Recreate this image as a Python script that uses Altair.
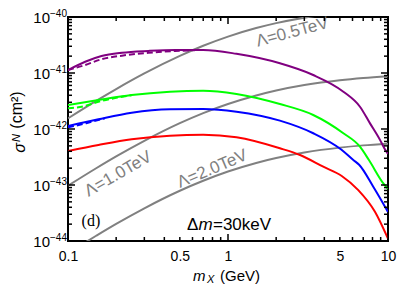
import altair as alt
import pandas as pd

# ---------------- data ----------------
purple_x = [0.1, 0.128, 0.162, 0.217, 0.318, 0.467, 0.70, 1.13, 2.11, 3.41, 5.26, 6.68, 7.72, 8.91, 9.5, 10]
purple_y = [1.13e-41, 1.59e-41, 2.01e-41, 2.30e-41, 2.48e-41, 2.58e-41, 2.58e-41, 2.2e-41, 1.49e-41,
            9.2e-42, 4.64e-42, 2.50e-42, 1.26e-42, 6.4e-43, 4.5e-43, 3.6e-43]
purple_dash_x = [0.1, 0.128, 0.162, 0.217, 0.318, 0.467, 0.62]
purple_dash_y = [1.13e-41, 1.39e-41, 1.76e-41, 2.04e-41, 2.30e-41, 2.47e-41, 2.56e-41]

green_x = [0.1, 0.155, 0.25, 0.434, 0.70, 1.13, 2.11, 3.41, 5.26, 6.68, 7.6, 9.35, 10]
green_y = [2.68e-42, 3.30e-42, 4.05e-42, 4.64e-42, 4.83e-42, 4.22e-42, 2.79e-42, 1.78e-42,
           8.4e-43, 4.83e-43, 2.79e-43, 1.07e-43, 8.5e-44]
green_dash_x = [0.1, 0.128, 0.155, 0.2, 0.25]
green_dash_y = [2.34e-42, 2.58e-42, 3.07e-42, 3.6e-42, 4.0e-42]

blue_x = [0.1, 0.155, 0.25, 0.434, 0.70, 1.13, 2.11, 3.41, 5.1, 6.07, 6.6, 8.09, 10]
blue_y = [1.13e-42, 1.49e-42, 1.95e-42, 2.25e-42, 2.28e-42, 2.04e-42, 1.41e-42, 8.4e-43,
          4.3e-43, 2.79e-43, 2.3e-43, 9.3e-44, 3.3e-44]
blue_dash_x = [0.1, 0.13, 0.17]
blue_dash_y = [1.07e-42, 1.27e-42, 1.55e-42]

red_x = [0.1, 0.155, 0.25, 0.434, 0.70, 1.13, 2.11, 2.82, 3.94, 5.14, 6.52, 8.29, 10]
red_y = [4.05e-43, 5.18e-43, 6.55e-43, 7.6e-43, 7.9e-43, 7.1e-43, 4.52e-43, 3.43e-43,
         2.12e-43, 1.45e-43, 8.1e-44, 3.33e-44, 1.1e-44]

gray_x = [0.1, 0.15, 0.2, 0.3, 0.5, 0.7, 1, 1.5, 2, 3, 5, 7, 10]
lam05_y = [1.55e-42, 3.18e-42, 5.17e-42, 9.83e-42, 2.02e-41, 3.06e-41, 4.46e-41, 6.34e-41,
           7.77e-41, 9.73e-41, 1.19e-40, 1.30e-40, 1.40e-40]
lam10_y = [9.7e-44, 1.99e-43, 3.24e-43, 6.15e-43, 1.27e-42, 1.92e-42, 2.79e-42, 3.97e-42,
           4.87e-42, 6.10e-42, 7.45e-42, 8.17e-42, 8.79e-42]
lam20_y = [6.1e-45, 1.24e-44, 2.02e-44, 3.84e-44, 7.90e-44, 1.19e-43, 1.74e-43, 2.48e-43,
           3.03e-43, 3.80e-43, 4.65e-43, 5.10e-43, 5.48e-43]

lam_labels = ["Λ=0.5TeV", "Λ=1.0TeV", "Λ=2.0TeV"]
lam_label_x = [2.52, 0.206, 0.798]
lam_label_y = [5.33e-41, 1.57e-43, 1.93e-43]
lam_label_angle = [345, 330, 337]

x_tick_labels = [0.1, 0.5, 1, 5, 10]
x_major = [0.1, 1, 10]
x_minor = [0.2, 0.3, 0.4, 0.5, 0.6, 0.7, 0.8, 0.9, 2, 3, 4, 5, 6, 7, 8, 9]
y_major = [1e-44, 1e-43, 1e-42, 1e-41, 1e-40]
y_exp_labels = ["−44", "−43", "−42", "−41", "−40"]
y_minor = [k * 10.0 ** n for n in (-44, -43, -42, -41) for k in range(2, 10)]

W, H = 320, 224
FONT = "Liberation Sans"

# ---------------- tables ----------------
def table(name, xs, ys):
    return pd.DataFrame({"x": xs, "y": ys, "series": name})

solid = pd.concat([
    table("purple", purple_x, purple_y),
    table("green", green_x, green_y),
    table("blue", blue_x, blue_y),
    table("red", red_x, red_y),
])
dashed = pd.concat([
    table("purple", purple_dash_x, purple_dash_y),
    table("green", green_dash_x, green_dash_y),
    table("blue", blue_dash_x, blue_dash_y),
])
gray = pd.concat([
    table("0.5", gray_x, lam05_y),
    table("1.0", gray_x, lam10_y),
    table("2.0", gray_x, lam20_y),
])

xs = alt.Scale(type="log", domain=[0.1, 10], nice=False)
ys = alt.Scale(type="log", domain=[1e-44, 1e-40], nice=False)
x_axis = alt.Axis(values=x_tick_labels, format="~g", labelFontSize=14, labelFont=FONT,
                  labelColor="black", ticks=False, domain=False, grid=False,
                  labelPadding=8, labelFlush=False, title=None)
X = alt.X("x:Q", scale=xs, axis=x_axis)
Y = alt.Y("y:Q", scale=ys, axis=None)

cdom = ["purple", "green", "blue", "red"]
crange = ["#800080", "#00ff00", "#0000ff", "#ff0000"]
C = alt.Color("series:N", scale=alt.Scale(domain=cdom, range=crange), legend=None)

gray_layer = alt.Chart(gray).mark_line(color="#808080", strokeWidth=2, clip=True,
                                       interpolate="monotone").encode(x=X, y=Y, detail="series:N")
solid_layer = alt.Chart(solid).mark_line(strokeWidth=2, clip=True,
                                         interpolate="monotone").encode(x=X, y=Y, color=C, detail="series:N")
dash_layer = alt.Chart(dashed).mark_line(strokeWidth=2, clip=True, strokeDash=[6, 3],
                                         interpolate="monotone").encode(x=X, y=Y, color=C, detail="series:N")

lam_df = pd.DataFrame({"x": lam_label_x, "y": lam_label_y, "t": lam_labels})
lam_layers = [
    alt.Chart(lam_df.iloc[[i]]).mark_text(font=FONT, fontSize=17, color="#808080",
                                          angle=int(lam_label_angle[i]), align="center",
                                          baseline="middle").encode(x=X, y=Y, text="t:N")
    for i in range(3)
]

# ticks on four sides
def vticks(vals, y0, y1):
    return alt.Chart(pd.DataFrame({"x": vals})).mark_rule(color="black", strokeWidth=1.5).encode(
        x=X, y=alt.value(y0), y2=alt.value(y1))

def hticks(vals, x0, x1):
    return alt.Chart(pd.DataFrame({"y": vals})).mark_rule(color="black", strokeWidth=1.5).encode(
        y=Y, x=alt.value(x0), x2=alt.value(x1))

tick_layers = [
    vticks(x_major, H, H - 7), vticks(x_minor, H, H - 4),
    vticks(x_major, 0, 7), vticks(x_minor, 0, 4),
    hticks(y_major, 0, 7), hticks(y_minor, 0, 4),
    hticks(y_major, W, W - 7), hticks(y_minor, W, W - 4),
]

ylab = pd.DataFrame({"y": y_major, "e": y_exp_labels, "b": ["10"] * 5})
ylab_base = alt.Chart(ylab).mark_text(font=FONT, fontSize=15, align="right", baseline="middle",
                                      dy=1, color="black").encode(x=alt.value(-18), y=Y, text="b:N")
ylab_exp = alt.Chart(ylab).mark_text(font=FONT, fontSize=10, align="left", baseline="middle",
                                     dy=-3, color="black").encode(x=alt.value(-18), y=Y, text="e:N")

def label(txt, xp, yp, size=15, style="normal", angle=0, align="left", font=FONT):
    df = pd.DataFrame({"t": [txt]})
    return alt.Chart(df).mark_text(font=font, fontSize=size, fontStyle=style, angle=angle,
                                   align=align, baseline="middle", color="black").encode(
        x=alt.value(xp), y=alt.value(yp), text="t:N")

# x title: m_X (GeV)
xtitle = [
    label("m", 125, 259, 15, "italic"),
    label("X", 139, 263, 11, "italic"),
    label("(GeV)", 152, 259, 15),
]
# y title: sigma_N (cm^2)
ytitle = [
    label("σ", -48, 131, 16, "italic", 270, "center"),
    label("N", -51, 121, 11, "italic", 270, "center"),
    label("(cm²)", -51, 93, 16, "normal", 270, "center"),
]

# annotations
ann_df = pd.DataFrame({"x": [0.554], "y": [1.93e-44]})
dm = [
    alt.Chart(ann_df).mark_text(font=FONT, fontSize=17, align="left", baseline="middle",
                                color="black").encode(x=X, y=Y, text=alt.value("Δ")),
    alt.Chart(ann_df).mark_text(font=FONT, fontSize=17, fontStyle="italic", align="left",
                                baseline="middle", dx=11.5, color="black").encode(x=X, y=Y, text=alt.value("m")),
    alt.Chart(ann_df).mark_text(font=FONT, fontSize=17, align="left", baseline="middle",
                                dx=26, color="black").encode(x=X, y=Y, text=alt.value("=30keV")),
]
d_df = pd.DataFrame({"x": [0.139], "y": [2.23e-44]})
d_label = alt.Chart(d_df).mark_text(font="Liberation Serif", fontSize=16, align="center",
                                    baseline="middle", color="black").encode(x=X, y=Y, text=alt.value("(d)"))

chart = alt.layer(
    gray_layer, solid_layer, dash_layer, *lam_layers, *tick_layers,
    ylab_base, ylab_exp, *xtitle, *ytitle, *dm, d_label,
).properties(
    width=W, height=H,
    autosize=alt.AutoSizeParams(type="none"),
    padding={"left": 60, "top": 9, "right": 12, "bottom": 51},
).configure_view(stroke="black", strokeWidth=2)

chart.save("out.html", embed_options={"renderer": "svg", "actions": False})
